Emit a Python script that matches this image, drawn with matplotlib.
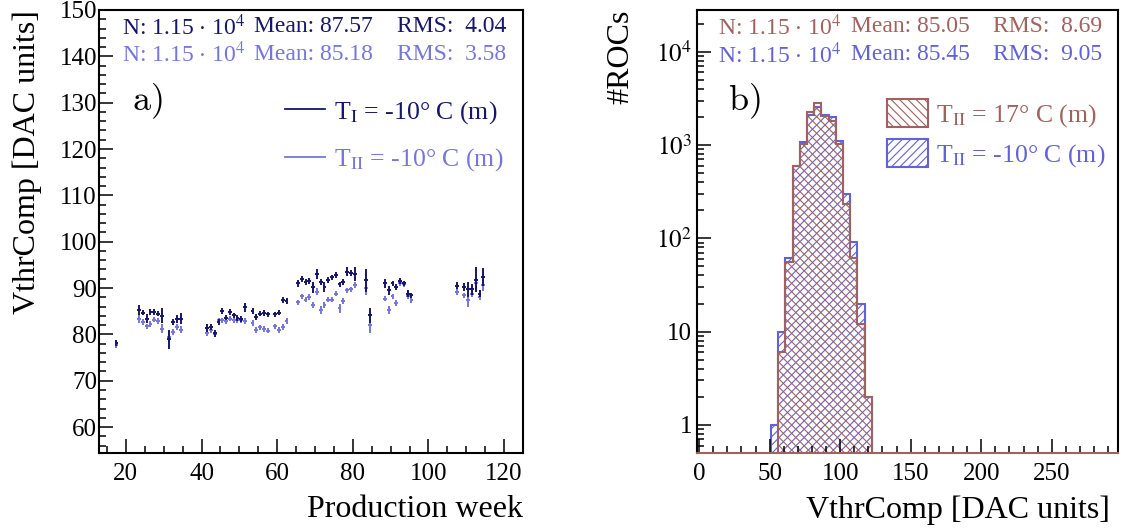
import numpy as np
import matplotlib
matplotlib.use('Agg')
import matplotlib.pyplot as plt
import matplotlib.patches as mpatches
from matplotlib.lines import Line2D
from matplotlib.ticker import MultipleLocator, LogLocator, FuncFormatter, NullFormatter

plt.rcParams['font.family'] = ['Liberation Serif', 'DejaVu Serif']
plt.rcParams['mathtext.fontset'] = 'stix'
plt.rcParams['hatch.linewidth'] = 0.8

# ---- panel a) : VthrComp per production week ----
weeks = [17,
         23, 24, 25, 26, 27, 28, 29, 31, 32, 33, 34,
         41, 42, 43, 44, 45, 46, 47, 48, 49, 50, 51,
         53, 54, 55, 56, 57, 59, 60, 61, 62,
         65, 66, 67, 68, 69, 70, 71, 72, 73, 74, 75, 76, 77, 78, 79, 80,
         83, 84,
         88, 89, 90, 91, 92, 93, 94, 95,
         107, 109, 110, 111, 112, 113, 114]

vthr_t1 = [78.1,
           85.2, 84.7, 83.4, 84.8, 84.8, 84.5, 84.0, 78.9, 82.7, 83.3, 83.4,
           81.4, 81.6, 80.2, 82.7, 85.1, 83.6, 84.8, 84.1, 83.5, 83.3, 85.8,
           85.0, 83.8, 84.5, 84.6, 84.3, 84.3, 84.7, 87.4, 87.2,
           91.0, 92.0, 91.3, 91.5, 90.2, 93.0, 91.3, 90.2, 91.7, 92.3, 92.8, 90.8, 91.3, 93.5, 93.3, 93.1,
           91.7, 84.1,
           91.0, 89.5, 91.0, 90.2, 91.5, 91.0, 88.8, 88.4,
           90.5, 90.2, 89.7, 89.7, 91.8, 88.8, 92.4]

err_t1 = [0.6,
          1.1, 0.6, 0.9, 0.6, 0.6, 0.6, 1.6, 2.0, 0.6, 0.9, 1.2,
          0.8, 0.6, 0.8, 0.6, 0.6, 0.6, 0.6, 0.6, 0.6, 0.6, 0.9,
          0.6, 0.6, 0.6, 0.6, 0.6, 0.6, 0.6, 0.6, 0.6,
          0.8, 0.6, 0.6, 0.6, 1.2, 1.0, 0.6, 1.0, 0.6, 0.6, 0.6, 0.6, 0.6, 1.0, 0.6, 1.5,
          2.5, 1.6,
          1.0, 0.9, 0.6, 0.6, 0.6, 0.6, 0.8, 0.6,
          0.8, 0.9, 1.6, 1.2, 2.7, 0.8, 2.0]

vthr_t2 = [77.6,
           83.3, 82.7, 81.7, 82.2, 83.2, 82.9, 81.2, 79.5, 80.5, 81.6, 81.0,
           80.3, 80.9, 80.0, 83.0, 83.0, 82.9, 83.4, 83.0, 83.0, 83.0, 82.9,
           82.5, 81.0, 81.5, 81.1, 80.8, 81.7, 80.9, 81.6, 82.9,
           86.9, 88.2, 87.5, 88.1, 86.3, 89.2, 85.3, 86.3, 87.5, 87.5, 88.8, 85.6, 87.2, 89.5, 89.7, 90.6,
           90.1, 82.0,
           87.7, 85.3, 88.2, 86.8, 91.0, 90.8, 88.2, 87.4,
           89.2, 88.4, 87.4, 88.8, 91.0, 88.1, 90.6]

err_t2 = [0.6,
          0.8, 0.6, 0.6, 0.6, 0.6, 0.6, 1.0, 1.2, 0.6, 0.6, 0.8,
          0.6, 0.6, 0.6, 0.6, 0.6, 0.6, 0.6, 0.6, 0.6, 0.6, 0.6,
          0.6, 0.6, 0.6, 0.6, 0.6, 0.6, 0.6, 0.6, 0.6,
          0.6, 0.6, 0.6, 0.6, 0.6, 0.8, 0.9, 0.6, 0.6, 0.6, 0.6, 1.0, 0.6, 0.6, 0.6, 0.6,
          1.5, 1.6,
          0.6, 0.9, 0.6, 0.6, 0.6, 0.6, 0.6, 0.6,
          0.8, 0.6, 1.4, 0.8, 1.5, 0.6, 1.2]

stats_a = [('1.15', '87.57', '4.04'), ('1.15', '85.18', '3.58')]

# ---- panel b) : VthrComp distributions ----
hist_edges = np.arange(51) * 5.1
first_bin_warm = 11
counts_warm = [6, 56, 600, 1020, 2240, 2820, 2065, 1820, 1020, 232, 62, 12, 2]
first_bin_cold = 10
counts_cold = [1, 10, 62, 600, 1085, 2100, 2540, 2100, 1990, 1110, 297, 92, 20, 2]

stats_b = [('1.15', '85.05', '8.69'), ('1.15', '85.45', '9.05')]

dark = '#16166a'
light = '#7676dc'
brown = '#a0625e'
blue = '#6262d8'

W, H = 1126, 528
fig = plt.figure(figsize=(W / 100, H / 100), dpi=100)
ax1 = fig.add_axes([99 / W, 75 / H, 424 / W, 443 / H])
ax2 = fig.add_axes([697 / W, 75 / H, 421 / W, 443 / H])

x = np.array(weeks) + 0.5
ax1.errorbar(x, vthr_t2, xerr=0.5, yerr=err_t2, fmt='none',
             ecolor=light, elinewidth=1.4)
ax1.errorbar(x, vthr_t1, xerr=0.5, yerr=err_t1, fmt='none',
             ecolor=dark, elinewidth=1.4)
ax1.set_xlim(12.9, 125)
ax1.set_ylim(54.4, 150)
ax1.xaxis.set_major_locator(MultipleLocator(20))
ax1.xaxis.set_minor_locator(MultipleLocator(5))
ax1.yaxis.set_major_locator(MultipleLocator(10))
ax1.yaxis.set_minor_locator(MultipleLocator(2))

edges_warm = hist_edges[first_bin_warm:first_bin_warm + len(counts_warm) + 1]
edges_cold = hist_edges[first_bin_cold:first_bin_cold + len(counts_cold) + 1]
ax2.stairs(counts_cold, edges_cold, baseline=1e-3, fill=True,
           facecolor='none', edgecolor=blue, hatch='////', lw=1.5)
ax2.stairs(counts_warm, edges_warm, baseline=1e-3, fill=True,
           facecolor='none', edgecolor=brown, hatch='\\\\\\\\', lw=1.5)
ax2.set_yscale('log')
ax2.set_xlim(-1.5, 297)
ax2.set_ylim(0.5, 2.8e4)
ax2.xaxis.set_major_locator(MultipleLocator(50))
ax2.xaxis.set_minor_locator(MultipleLocator(10))
ax2.yaxis.set_major_locator(LogLocator(base=10))
ax2.yaxis.set_minor_locator(LogLocator(base=10, subs=np.arange(2, 10)))
ax2.yaxis.set_minor_formatter(NullFormatter())


def log_fmt(v, pos):
    if v < 1.5:
        return '1'
    if v < 15:
        return '10'
    return r'$10^{%d}$' % round(np.log10(v))


ax2.yaxis.set_major_formatter(FuncFormatter(log_fmt))

for ax in (ax1, ax2):
    ax.tick_params(which='both', direction='in', top=False, right=False,
                   labelsize=18, width=1.1)
    ax.tick_params(which='major', length=10)
    ax.tick_params(which='minor', length=5)
    ax.tick_params(axis='x', pad=7)
    for s in ax.spines.values():
        s.set_linewidth(1.5)
ax1.tick_params(axis='y', pad=1.5)
ax2.tick_params(axis='y', pad=3.5)
ax2.spines['bottom'].set_color(brown)

ax1.set_xlabel('Production week', fontsize=23, loc='right')
ax1.set_ylabel('VthrComp [DAC units]', fontsize=23, loc='top')
ax2.set_xlabel('VthrComp [DAC units]', fontsize=23, loc='right')
ax2.set_ylabel('#ROCs', fontsize=23, loc='top')
ax1.xaxis.set_label_coords(1.0, -0.095)
ax2.xaxis.set_label_coords(0.98, -0.095)
ax1.yaxis.set_label_coords(-0.135, 1.0)
ax2.yaxis.set_label_coords(-0.147, 1.0)

# statistics boxes
stat_fs = 17
for (n, mean, rms), yc, c in zip(stats_a, (27, 54), (dark, light)):
    fig.text(122 / W, 1 - yc / H, r'N: %s $\cdot$ 10$^{4}$' % n, color=c,
             fontsize=stat_fs, va='center')
    fig.text(254 / W, 1 - yc / H, 'Mean: ' + mean, color=c, fontsize=stat_fs, va='center')
    fig.text(397 / W, 1 - yc / H, 'RMS:  ' + rms, color=c, fontsize=stat_fs, va='center')
for (n, mean, rms), yc, c in zip(stats_b, (27, 55), (brown, blue)):
    fig.text(718 / W, 1 - yc / H, r'N: %s $\cdot$ 10$^{4}$' % n, color=c,
             fontsize=stat_fs, va='center')
    fig.text(851 / W, 1 - yc / H, 'Mean: ' + mean, color=c, fontsize=stat_fs, va='center')
    fig.text(993 / W, 1 - yc / H, 'RMS:  ' + rms, color=c, fontsize=stat_fs, va='center')

fig.text(147 / W, 1 - 101 / H, r'$\mathrm{a)}$', math_fontfamily='cm',
         fontsize=26, ha='center', va='center')
fig.text(744 / W, 1 - 101 / H, r'$\mathrm{b)}$', math_fontfamily='cm',
         fontsize=26, ha='center', va='center')

handles_a = [Line2D([], [], color=dark, lw=1.3),
             Line2D([], [], color=light, lw=1.3)]
leg = ax1.legend(handles_a, [r'T$_{\mathrm{I}}$ = -10° C (m)',
                             r'T$_{\mathrm{II}}$ = -10° C (m)'],
                 loc='upper left', bbox_to_anchor=(285 / W, 1 - 99 / H),
                 bbox_transform=fig.transFigure, frameon=False, fontsize=18.5,
                 handlelength=1.55, handletextpad=0.35, labelspacing=0.8,
                 borderpad=0, borderaxespad=0)
for t, c in zip(leg.get_texts(), (dark, light)):
    t.set_color(c)

handles_b = [mpatches.Patch(facecolor='none', edgecolor=brown, hatch='\\\\\\\\', lw=1.5),
             mpatches.Patch(facecolor='none', edgecolor=blue, hatch='////', lw=1.5)]
leg = ax2.legend(handles_b, [r'T$_{\mathrm{II}}$ = 17° C (m)',
                             r'T$_{\mathrm{II}}$ = -10° C (m)'],
                 loc='upper left', bbox_to_anchor=(887 / W, 1 - 99 / H),
                 bbox_transform=fig.transFigure, frameon=False, fontsize=18.5,
                 handlelength=1.6, handleheight=1.3, handletextpad=0.3,
                 labelspacing=0.4, borderpad=0, borderaxespad=0)
for t, c in zip(leg.get_texts(), (brown, blue)):
    t.set_color(c)

fig.savefig('out.png', dpi=100)
